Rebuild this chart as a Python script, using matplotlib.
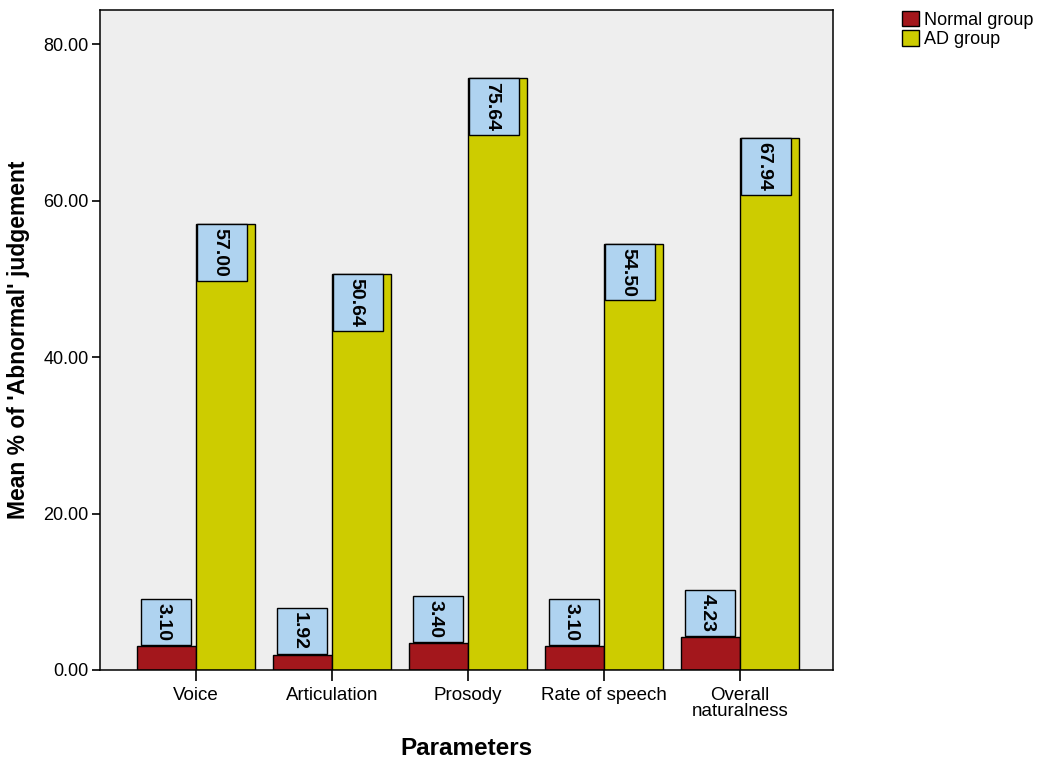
import numpy as np
import matplotlib
matplotlib.use("Agg")
import matplotlib.pyplot as plt
from matplotlib.patches import Rectangle
from matplotlib.transforms import IdentityTransform

plt.rcParams['font.family'] = ['Liberation Sans', 'DejaVu Sans']

# mean % of abnormal judgement per parameter
parameters = ['Voice', 'Articulation', 'Prosody', 'Rate of speech', 'Overall\nnaturalness']
normal_group = [3.10, 1.92, 3.40, 3.10, 4.23]
ad_group = [57.00, 50.64, 75.64, 54.50, 67.94]
y_ticks = [0, 20, 40, 60, 80]

red = '#a3171c'
yellow = '#cdcc00'
box_blue = '#afd3f0'

fig = plt.figure(figsize=(10.39, 7.58), dpi=100)
ax = fig.add_axes([0.0962, 0.1161, 0.7055, 0.8707])
ax.set_facecolor('#eeeeee')

x = np.arange(len(parameters))
w = 0.434
b1 = ax.bar(x - w / 2, normal_group, w, color=red, edgecolor='black', linewidth=1, label='Normal group')
b2 = ax.bar(x + w / 2, ad_group, w, color=yellow, edgecolor='black', linewidth=1, label='AD group')

# value labels: rotated text, boxes added once the text size is known
shift = 3  # glyphs sit right of the extent centre when rotated
labels = []
for xi, v in zip(x - w / 2, normal_group):
    t = ax.annotate('%.2f' % v, (xi, v), xytext=(-shift, 5), textcoords='offset pixels',
                    rotation=-90, ha='center', va='bottom', fontsize=14,
                    fontweight='bold', zorder=5)
    labels.append(t)
for xi, v in zip(x + w / 2, ad_group):
    t = ax.annotate('%.2f' % v, (xi, v), xytext=(-shift - 3, -4), textcoords='offset pixels',
                    rotation=-90, ha='center', va='top', fontsize=14,
                    fontweight='bold', zorder=5)
    labels.append(t)

ax.set_xlim(-0.706, 4.684)
ax.set_ylim(0, 84.35)
ax.set_xticks(x)
ax.set_xticklabels(parameters, fontsize=13.5, linespacing=0.95)
ax.set_yticks(y_ticks)
ax.set_yticklabels(['%.2f' % t for t in y_ticks], fontsize=13)
ax.tick_params(axis='y', direction='out', length=6, width=1.2, pad=2)
ax.tick_params(axis='x', direction='out', length=8, width=1.2, pad=4)
for s in ax.spines.values():
    s.set_linewidth(1.1)

ax.set_ylabel("Mean % of 'Abnormal' judgement", fontsize=16.5, fontweight='bold', labelpad=10)
ax.set_xlabel('Parameters', fontsize=17.5, fontweight='bold', labelpad=12)

fig.legend(handles=[b1, b2], loc='upper left', bbox_to_anchor=(0.868, 0.986),
           frameon=False, fontsize=13, handlelength=0.95, handleheight=0.95,
           handletextpad=0.25, labelspacing=0.1, borderpad=0, borderaxespad=0)

fig.canvas.draw()
r = fig.canvas.get_renderer()
for t in labels:
    ext = t.get_window_extent(r)
    cx = (ext.x0 + ext.x1) / 2 + shift
    ax.add_patch(Rectangle((cx - 25, ext.y0 - 4), 50, ext.height + 8,
                           transform=IdentityTransform(), facecolor=box_blue,
                           edgecolor='black', linewidth=1, zorder=4))

fig.savefig('out.png', dpi=100)
